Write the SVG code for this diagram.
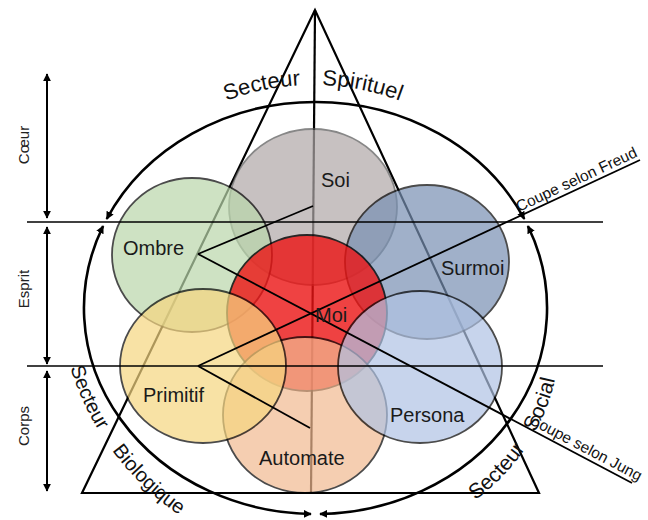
<svg xmlns="http://www.w3.org/2000/svg" width="648" height="520" viewBox="0 0 648 520">
<style>
.ln{stroke:#000;stroke-width:2.2;fill:none}
.hl{stroke:#000;stroke-width:1.6;fill:none}
.cn{stroke:#000;stroke-width:1.8;fill:none}
.va{stroke:#000;stroke-width:2;fill:none;marker-start:url(#ar);marker-end:url(#ar)}
.ea{stroke:#000;stroke-width:2.6;fill:none;marker-start:url(#ar);marker-end:url(#ar)}
.c{stroke:#000;stroke-width:1.8}
.lbl{font-family:"Liberation Sans",Arial,sans-serif;font-size:20px;fill:#1a1a1a}
.side{font-family:"Liberation Sans",Arial,sans-serif;font-size:15px;fill:#222;text-anchor:middle}
.arc{font-family:"Liberation Sans",Arial,sans-serif;font-size:22px;fill:#111}
.cut{font-family:"Liberation Sans",Arial,sans-serif;font-size:15.5px;fill:#111}
</style>
<defs>
<marker id="ar" viewBox="0 0 10 10" refX="9" refY="5" markerWidth="8" markerHeight="8" markerUnits="userSpaceOnUse" orient="auto-start-reverse">
<path d="M0,0 L10,5 L0,10 z" fill="#000"/>
</marker>
<path id="pTop" d="M 66 332 A 247 247 0 0 1 560 332"/>
<path id="pLeft" d="M 58 286 A 277 277 0 0 0 335 563"/>
<path id="pRight" d="M 357 538 A 203 203 0 0 0 560 335"/>
</defs>

<g id="triangle">
<path class="ln" d="M315 10 L82 493 L539 493 Z"/>
<line class="ln" x1="315" y1="10" x2="311" y2="493"/>
</g>

<g id="circles">
<g id="soi"><ellipse cx="313" cy="207" rx="84" ry="78" fill="#b0a8a8" stroke="#555" stroke-width="1.8" opacity="0.7"/></g>
<g id="ombre"><ellipse class="c" cx="192" cy="255" rx="80" ry="77" fill="#bad7ab" opacity="0.7"/></g>
<g id="surmoi"><ellipse class="c" cx="427" cy="262" rx="82" ry="77" fill="#7890b3" opacity="0.7"/></g>
<g id="moi"><ellipse class="c" cx="307" cy="313" rx="80" ry="78" fill="#ec1414" opacity="0.8"/></g>
<g id="automate"><ellipse class="c" cx="305" cy="415" rx="82" ry="78" fill="#f2ba91" opacity="0.7"/></g>
<g id="primitif"><ellipse class="c" cx="203" cy="366" rx="83" ry="77" fill="#f6d680" opacity="0.7"/></g>
<g id="persona"><ellipse class="c" cx="420" cy="367" rx="82" ry="76" fill="#b0c3e4" opacity="0.7"/></g>
</g>

<g id="connectors">
<line class="hl" x1="27" y1="222" x2="603" y2="222"/>
<line class="hl" x1="27" y1="366" x2="603" y2="366"/>
<path class="ea" d="M 106.7 219 A 231.5 206 0 0 1 524.3 219"/>
<path class="ea" d="M 103.1 226 A 231.5 206 0 0 0 311 514"/>
<path class="ea" d="M 527.9 226 A 231.5 206 0 0 1 320 514"/>
<line class="va" x1="47" y1="74" x2="47" y2="218"/>
<line class="va" x1="47" y1="227" x2="47" y2="364"/>
<line class="va" x1="47" y1="371" x2="47" y2="491"/>
<line class="cn" x1="198" y1="366" x2="640" y2="160"/>
<line class="cn" x1="198" y1="254" x2="632" y2="483"/>
<line class="cn" x1="198" y1="254" x2="313" y2="206"/>
<line class="cn" x1="198" y1="366" x2="310" y2="428"/>
</g>

<g id="labels">
<text class="lbl" x="321" y="187">Soi</text>
<text class="lbl" x="123" y="255">Ombre</text>
<text class="lbl" x="441" y="275">Surmoi</text>
<text class="lbl" x="315" y="322">Moi</text>
<text class="lbl" x="143" y="402">Primitif</text>
<text class="lbl" x="390" y="422">Persona</text>
<text class="lbl" x="259" y="465">Automate</text>
<text class="side" transform="translate(29,145) rotate(-90)">Cœur</text>
<text class="side" transform="translate(29,289) rotate(-90)">Esprit</text>
<text class="side" transform="translate(29,426) rotate(-90)">Corps</text>
<text class="cut" transform="translate(519,212) rotate(-25.1)">Coupe selon Freud</text>
<text class="cut" transform="translate(528,423) rotate(27.8)">Coupe selon Jung</text>
<text class="arc"><textPath href="#pTop" startOffset="375" text-anchor="end">Secteur</textPath></text>
<text class="arc"><textPath href="#pTop" startOffset="397">Spirituel</textPath></text>
<text class="arc" style="font-size:20px"><textPath href="#pLeft" startOffset="83">Secteur</textPath></text>
<text class="arc" style="font-size:20px"><textPath href="#pLeft" startOffset="176">Biologique</textPath></text>
<text class="arc" style="font-size:21px"><textPath href="#pRight" startOffset="126">Secteur</textPath></text>
<text class="arc" style="font-size:21px"><textPath href="#pRight" startOffset="217">Social</textPath></text>
</g>
</svg>
